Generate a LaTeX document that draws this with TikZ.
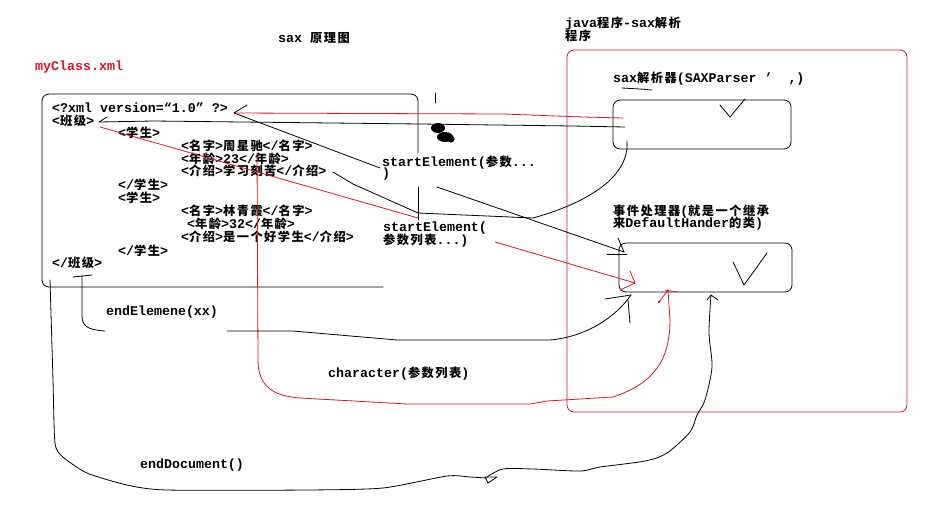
\documentclass[tikz,border=0pt]{standalone}
\usepackage{fontspec}
\setmainfont{Liberation Mono}
\newfontfamily\zhfont{Noto Sans CJK SC}[Scale=0.92, LetterSpace=12]
\newcommand{\zh}[1]{{\zhfont #1}}
\definecolor{penred}{RGB}{220, 20, 45}

\begin{document}
\begin{tikzpicture}[x=1pt, y=-1pt,
    txt/.style={anchor=base west, inner sep=0pt, font=\fontsize{13.3}{13}\selectfont\bfseries},
    pen/.style={line width=0.8pt, line join=round, line cap=round},
    redpen/.style={pen, draw=penred},
    sketchbox/.style={draw, line width=0.8pt, rounded corners=7pt, inner sep=0pt}]
        \useasboundingbox[fill=white] (0,0) rectangle (926,517);

        % titles
        \node[txt] (title) at (278,42) {sax \zh{原理图}};
        \node[txt, penred] (fileName) at (35,70) {myClass.xml};
        \node[txt] (javaTitle) at (565,27) {java\zh{程序}-sax\zh{解析}};
        \node[txt] (javaTitleB) at (565,40) {\zh{程序}};

        % xml file
        \draw[pen, rounded corners=7pt] (383,287) -- (42,287) -- (42,94) -- (418,94) -- (418,153);
        \draw[pen] (418,187) -- (418,220);
        \node[txt] (decl) at (52,112.5) {<?xml version=“1.0” ?>};
        \node[txt] (classOpen) at (52,125) {<\zh{班级}>};
        \node[txt] (stuOpenA) at (118,137.5) {<\zh{学生}>};
        \node[txt] (nameA) at (181,150.5) {<\zh{名字}>\zh{周星驰}</\zh{名字}>};
        \node[txt] (ageA) at (181,163) {<\zh{年龄}>23</\zh{年龄}>};
        \node[txt] (introA) at (181,175.5) {<\zh{介绍}>\zh{学习刻苦}</\zh{介绍}>};
        \node[txt] (stuCloseA) at (118,189.5) {</\zh{学生}>};
        \node[txt] (stuOpenB) at (118,202) {<\zh{学生}>};
        \node[txt] (nameB) at (181,215) {<\zh{名字}>\zh{林青霞}</\zh{名字}>};
        \node[txt] (ageB) at (187,228) {<\zh{年龄}>32</\zh{年龄}>};
        \node[txt] (introB) at (181,241.7) {<\zh{介绍}>\zh{是一个好学生}</\zh{介绍}>};
        \node[txt] (stuCloseB) at (118,255) {</\zh{学生}>};
        \node[txt] (classClose) at (52,267.3) {</\zh{班级}>};

        % java program
        \node[sketchbox, draw=penred, minimum width=340pt, minimum height=362pt] (javaProg) at (737,231) {};
        \node[txt] (parserLabel) at (613,82.5) {sax\zh{解析器}(SAXParser '\ \ ,)};
        \node[sketchbox, minimum width=178pt, minimum height=49pt] (parser) at (702,124.5) {};
        \node[txt] (handlerLabel) at (613,215) {\zh{事件处理器}(\zh{就是一个继承}};
        \node[txt] (handlerLabelB) at (613,227.5) {\zh{来}DefaultHander\zh{的类})};
        \node[sketchbox, minimum width=173pt, minimum height=49pt] (handler) at (705.5,267.5) {};
        \draw[pen] (622,88) -- (640,89) -- (652,90);
        \draw[pen] (720,105) -- (730,117) -- (745,99);
        \draw[pen] (733,262) -- (744,285) -- (767,253);

        % event labels
        \node[txt] (startA) at (382,166) {startElement(\zh{参数}...};
        \node[txt] (startAB) at (382,177.5) {)};
        \node[txt] (startB) at (383,231.7) {startElement(};
        \node[txt] (startBB) at (383,244.5) {\zh{参数列表}...)};
        \node[txt] (endElem) at (106,315.5) {endElemene(xx)};
        \node[txt] (chars) at (328,377.8) {character(\zh{参数列表})};
        \node[txt] (endDoc) at (140,468) {endDocument()};

        \coordinate (declEnd) at (234,113);
        \coordinate (classEnd) at (99,122);
        \coordinate (classRed) at (100,127);
        \coordinate (introEnd) at (333,172);
        \coordinate (textStart) at (257,153);
        \coordinate (closeTip) at (82,276);
        \coordinate (xmlBottom) at (50,280);
        \coordinate (parserIn) at (623,118);
        \coordinate (parserOut) at (625,127);
        \coordinate (parserLow) at (627,141);
        \coordinate (handlerA) at (624,252);
        \coordinate (handlerB) at (635,283);
        \coordinate (handlerC) at (668,290);
        \coordinate (handlerD) at (631,295);
        \coordinate (handlerE) at (711,295);

        % parser to the file
        \draw[redpen] (parserIn) -- (583,117) -- (503,114) -- (declEnd);
        \draw[pen] (declEnd) -- ++(13,-8);
        \draw[pen] (parserOut) -- (572,126) -- (420,124) -- (153,121) -- (classEnd);
        \draw[pen] (classEnd) -- ++(8,-5);
        \draw[pen] (introEnd) -- (353,184) -- (418,213) -- (533,218) .. controls (580,205) and (630,180) .. (parserLow);

        % startElement
        \draw[pen] (declEnd) -- (380,168);
        \draw[pen] (437,187) -- (handlerA);
        \draw[pen] (handlerA) -- ++(-6,-14);
        \draw[pen] (handlerA) ++(-17,2) -- ++(20,0);
        \draw[redpen] (classRed) -- (418,218);
        \draw[redpen] (495,242) -- (handlerB);
        \draw[redpen] (handlerB) -- ++(-5,-12);
        \draw[redpen] (handlerB) -- ++(-15,7);

        % character
        \draw[redpen] (textStart) -- (258,360) .. controls (258,388) and (275,396) .. (300,398) -- (407,404) -- (530,404) -- (547,401) -- (613,397) .. controls (652,384) and (670,362) .. (670,320) -- (handlerC);
        \draw[redpen] (handlerC) ++(-3,0) -- ++(12,2);
        \draw[redpen] (handlerC) -- ++(-9,12);
        \fill[penred] (659,302) circle (1.3pt);

        % endElement
        \draw[pen] (handlerD) .. controls (615,318) and (585,337) .. (550,340) -- (397,340) -- (293,331) -- (227,331);
        \draw[pen] (105,331) .. controls (88,330) and (82,326) .. (82,316) -- (closeTip);
        \draw[pen] (closeTip) ++(-9,1) -- ++(19,-2);
        \draw[pen] (handlerD) ++(-26,4) -- (handlerD);
        \draw[pen] (handlerD) ++(-3,5) -- ++(2,23);

        % endDocument
        \draw[pen] plot[smooth, tension=0.4] coordinates {(xmlBottom) (53,380) (55,443) (63,457) (87,473) (127,485) (167,490) (307,490) (383,488) (447,476) (470,477) (487,478)};
        \draw[pen] (485,477) -- (497,477) -- (488,483) -- cycle;
        \draw[pen] plot[smooth, tension=0.5] coordinates {(487,477) (503,469) (533,469) (580,471) (600,467) (645,461) (667,453) (690,432) (697,415) (705,400) (712,367) (709,333) (handlerE)};
        \draw[pen] (handlerE) ++(-4,5) -- (handlerE) -- ++(7,5);

        % scribbles
        \draw[pen] (435,93) -- (435,103);
        \fill (438,128) ellipse [x radius=7pt, y radius=5pt];
        \fill (445,137) ellipse [x radius=8pt, y radius=5pt];
        \fill (451,139) circle (3.5pt);
    \end{tikzpicture}
\end{document}
